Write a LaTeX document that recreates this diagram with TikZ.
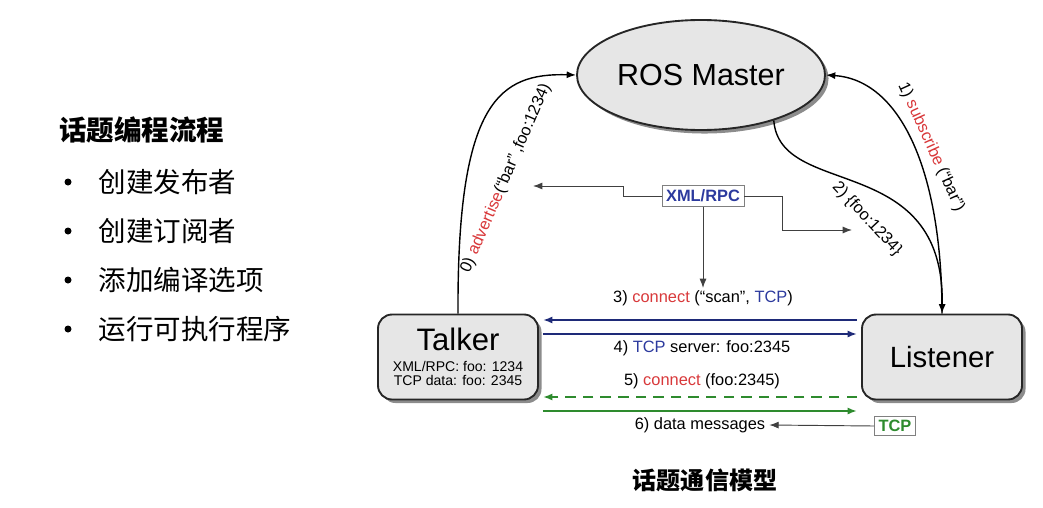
\documentclass[tikz,border=0pt]{standalone}
\usepackage{fontspec}
\setmainfont{Liberation Sans}
\newfontfamily\cjk{Noto Sans CJK SC}
\usepackage{xcolor}
\usetikzlibrary{shapes,arrows,positioning,shadows,arrows.meta}
\definecolor{msg-red}{HTML}{D8383A}
\definecolor{msg-blue}{HTML}{2C3A9E}
\definecolor{msg-navy}{HTML}{1E2A78}
\definecolor{msg-green}{HTML}{2E8B2E}
\definecolor{node-gray}{HTML}{E6E6E6}
\tikzset{ros-node/.style={draw=black!85, line width=1.6pt, fill=node-gray, drop shadow={shadow xshift=3pt, shadow yshift=-3pt, fill=black!45, opacity=1}}}
\tikzset{ros-box/.style={ros-node, rectangle, rounded corners=12pt, minimum width=4.8cm, minimum height=2.55cm}}
\tikzset{tag-box/.style={draw=black!50, fill=white, line width=0.8pt, inner xsep=3.5pt, inner ysep=3.5pt, font=\bfseries\fontsize{14}{16}\selectfont}}
\tikzset{msg/.style={font=\fontsize{14}{16}\selectfont}}
\tikzset{ros-curve/.style={line width=1.2pt}}
\tikzset{lane/.style={line width=1.7pt, shorten >=0.12cm, shorten <=0.12cm}}
\tikzset{bullet-dot/.style={circle, fill, inner sep=0pt, minimum size=0.21cm}}
\tikzset{list-item/.style={font=\cjk\fontsize{23.5}{27}\selectfont}}
\tikzset{>={Latex[length=8pt,width=6pt]}}

\begin{document}
\begin{tikzpicture}[x=0.03cm, y=-0.03cm]
            \useasboundingbox (0,0) rectangle (1043,507);

            \node[anchor=west, font=\cjk\bfseries\fontsize{23.5}{27}\selectfont] (title) at (55,130) {话题编程流程};
            \foreach \txt [count=\i] in {创建发布者,创建订阅者,添加编译选项,运行可执行程序} {
                \node[bullet-dot] (dot\i) at (68, 133+49*\i) {};
                \node[list-item, right=0.68cm of dot\i] (item\i) {\txt};
            }

            \node[ros-node, ellipse, minimum width=6.6cm, minimum height=3.3cm, font=\fontsize{26}{30}\selectfont] (master) at (701,75) {ROS Master};
            \node[ros-box, align=center] (talker) at (458,357)
                {{\fontsize{26.5}{28}\selectfont Talker}\\[6pt]
                 {\fontsize{12}{13}\selectfont XML/RPC: foo: 1234}\\
                 {\fontsize{12}{13}\selectfont TCP data: foo: 2345}};
            \node[ros-box, font=\fontsize{25}{28}\selectfont] (listener) at (942,357) {Listener};

            \node[tag-box, text=msg-blue] (xmlrpc) at (703,196) {XML/RPC};
            \node[tag-box, text=msg-green] (tcp) at (895,426) {TCP};

            \draw[->, ros-curve] (talker.north) .. controls (457,100) and (500,73) .. (master.west);
            \draw[->, ros-curve] (listener.north) .. controls (942,170) and (900,80) .. (master.east);
            \draw[->, ros-curve] (master.-32) .. controls (780,200) and (945,150) .. (listener.north);

            \node[msg, rotate=66.6] (step0) at (506,178) {0) \textcolor{msg-red}{advertise}(“bar” ,foo:1234)};
            \node[msg, rotate=-65.5] (step1) at (931,147) {1) \textcolor{msg-red}{subscribe} (“bar”)};
            \node[msg, rotate=-47] (step2) at (867,219) {2) \{foo:1234\}};

            \coordinate (adv-tip) at (533,186);
            \coordinate (foo-tip) at (852,230);
            \coordinate (connect-tip) at (703,288);
            \draw[->, black!75, line width=0.8pt] (xmlrpc.west) -- ++(-38,0) |- (adv-tip);
            \draw[->, black!75, line width=0.8pt] (xmlrpc.east) -- ++(38,0) |- (foo-tip);
            \draw[->, black!75, line width=0.8pt] (xmlrpc.south) -- (connect-tip);

            \coordinate (lane3) at (700,320);
            \coordinate (lane4) at (700,334);
            \coordinate (lane5) at (700,397);
            \coordinate (lane6) at (700,411);
            \draw[->, lane, msg-navy] (listener.west |- lane3) -- (talker.east |- lane3);
            \draw[->, lane, msg-navy] (talker.east |- lane4) -- (listener.west |- lane4);
            \draw[->, lane, msg-green, dash pattern=on 9pt off 6pt] (listener.west |- lane5) -- (talker.east |- lane5);
            \draw[->, lane, msg-green] (talker.east |- lane6) -- (listener.west |- lane6);

            \node[msg] (step3) at (703,298) {3) \textcolor{msg-red}{connect} (“scan”, \textcolor{msg-blue}{TCP})};
            \node[msg] (step4) at (702,348) {4) \textcolor{msg-blue}{TCP} server: foo:2345};
            \node[msg] (step5) at (702,381) {5) \textcolor{msg-red}{connect} (foo:2345)};
            \node[msg] (step6) at (700,425) {6) data messages};
            \draw[->, black!75, line width=0.8pt] (tcp.west) -- (step6.east);

            \node[font=\cjk\bfseries\fontsize{20.5}{24}\selectfont] (caption) at (705,480) {话题通信模型};
        \end{tikzpicture}
\end{document}
